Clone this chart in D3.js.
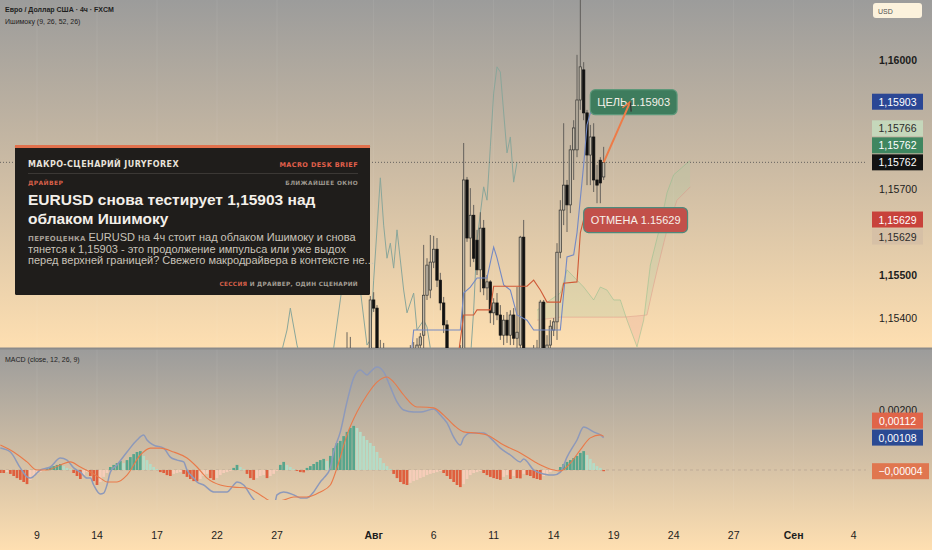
<!DOCTYPE html>
<html lang="ru">
<head>
<meta charset="utf-8">
<title>EURUSD 4ч</title>
<script src="https://cdn.jsdelivr.net/npm/d3@7/dist/d3.min.js"></script>
<style>
	html, body { margin: 0; padding: 0; background: #cdbda5; overflow: hidden; }
	svg { display: block; }
</style>
</head>
<body>
<svg id="chart" width="932" height="550"></svg>
<script>
// ---- values ----

// time axis: bar index (4h bars, 0 = 9 Jul) of every label
var tickBars = [0, 18, 36, 54, 72, 101, 119, 137, 155, 173, 191, 209, 227, 245];
var tickLabels = ["9", "14", "17", "22", "27", "Авг", "6", "11", "14", "19", "24", "27", "Сен", "4"];

var priceTicks = [1.16, 1.157, 1.155, 1.154];
var macdTicks = [200]; // units of 0.00001

// candles [open, high, low, close], the first one is bar 76
var candleStart = 76;
var candles = [
	[1.15256,1.15298,1.15228,1.15274],[1.15274,1.15307,1.15244,1.15260],[1.15260,1.15291,1.15233,1.15279],
	[1.15279,1.15302,1.15251,1.15267],[1.15267,1.15288,1.15237,1.15244],[1.15244,1.15274,1.15221,1.15260],
	[1.15260,1.15291,1.15251,1.15284],[1.15284,1.15302,1.15256,1.15267],[1.15267,1.15279,1.15233,1.15244],
	[1.15244,1.15267,1.15214,1.15228],[1.15228,1.15256,1.15209,1.15251],[1.15251,1.15284,1.15237,1.15274],
	[1.15274,1.15298,1.15260,1.15288],[1.15288,1.15314,1.15267,1.15302],[1.15302,1.15321,1.15279,1.15291],
	[1.15291,1.15314,1.15274,1.15307],[1.15307,1.15325,1.15288,1.15298],[1.15279,1.15367,1.15256,1.15321],
	[1.15321,1.15356,1.15274,1.15291],[1.15291,1.15314,1.15233,1.15244],[1.15244,1.15279,1.15209,1.15228],
	[1.15228,1.15274,1.15214,1.15256],[1.15256,1.15302,1.15228,1.15279],[1.15279,1.15321,1.15256,1.15307],
	[1.15307,1.15451,1.15298,1.15442],[1.15442,1.15460,1.15414,1.15423],[1.15423,1.15430,1.15274,1.15291],
	[1.15291,1.15349,1.15267,1.15307],[1.15307,1.15342,1.15279,1.15288],[1.15288,1.15314,1.15244,1.15260],
	[1.15260,1.15298,1.15228,1.15244],[1.15244,1.15291,1.15221,1.15274],[1.15274,1.15307,1.15237,1.15256],
	[1.15256,1.15298,1.15228,1.15279],[1.15279,1.15314,1.15251,1.15298],[1.15298,1.15325,1.15267,1.15284],
	[1.15284,1.15337,1.15274,1.15314],[1.15314,1.15344,1.15291,1.15325],[1.15325,1.15353,1.15302,1.15337],
	[1.15337,1.15365,1.15321,1.15356],[1.15360,1.15570,1.15330,1.15453],[1.15453,1.15539,1.15442,1.15523],
	[1.15465,1.15593,1.15446,1.15530],[1.15530,1.15591,1.15516,1.15560],[1.15560,1.15586,1.15472,1.15488],
	[1.15488,1.15505,1.15418,1.15435],[1.15435,1.15449,1.15365,1.15384],[1.15384,1.15395,1.15291,1.15307],
	[1.15307,1.15321,1.15256,1.15274],[1.15274,1.15307,1.15244,1.15291],[1.15291,1.15325,1.15267,1.15302],
	[1.15302,1.15337,1.15274,1.15314],[1.15314,1.15807,1.15302,1.15721],[1.15721,1.15728,1.15577,1.15586],
	[1.15586,1.15702,1.15519,1.15639],[1.15639,1.15663,1.15530,1.15539],[1.15581,1.15605,1.15500,1.15512],
	[1.15512,1.15646,1.15460,1.15609],[1.15609,1.15628,1.15453,1.15470],[1.15470,1.15500,1.15442,1.15484],
	[1.15484,1.15488,1.15388,1.15412],[1.15412,1.15446,1.15384,1.15435],[1.15435,1.15458,1.15395,1.15407],
	[1.15407,1.15430,1.15349,1.15360],[1.15360,1.15407,1.15337,1.15395],[1.15395,1.15414,1.15342,1.15360],
	[1.15360,1.15418,1.15337,1.15407],[1.15407,1.15423,1.15337,1.15353],[1.15353,1.15472,1.15330,1.15367],
	[1.15337,1.15591,1.15302,1.15588],[1.15588,1.15628,1.15279,1.15291],[1.15291,1.15325,1.15256,1.15274],
	[1.15274,1.15314,1.15244,1.15302],[1.15302,1.15337,1.15274,1.15325],[1.15325,1.15349,1.15284,1.15298],
	[1.15314,1.15442,1.15302,1.15437],[1.15437,1.15442,1.15279,1.15291],[1.15291,1.15360,1.15274,1.15337],
	[1.15337,1.15395,1.15325,1.15381],[1.15372,1.15400,1.15358,1.15391],[1.15391,1.15574,1.15349,1.15553],
	[1.15553,1.15674,1.15539,1.15651],[1.15651,1.15853,1.15616,1.15709],[1.15709,1.15721,1.15600,1.15663],
	[1.15663,1.15802,1.15644,1.15791],[1.15791,1.15860,1.15721,1.15842],[1.15791,1.16012,1.15774,1.15907],
	[1.15907,1.16140,1.15884,1.15984],[1.15977,1.15995,1.15860,1.15877],[1.15877,1.15884,1.15709,1.15779],
	[1.15779,1.15849,1.15709,1.15821],[1.15821,1.15853,1.15693,1.15721],[1.15721,1.15756,1.15667,1.15709],
	[1.15767,1.15774,1.15667,1.15714],[1.15728,1.15798,1.15721,1.15762]
];

// Ishimoku (9, 26, 52, 26) lines, [bar, price]
var tenkan = [[108,1.15291],[112,1.15291],[113,1.15372],[127,1.15372],[128,1.15458],[130,1.15472],[132,1.15493],
	[135,1.15493],[137,1.15565],[138,1.15540],[140,1.15477],[142,1.15465],[144,1.15407],[147,1.15395],[149,1.15372],
	[157,1.15372],[159,1.15542],[161,1.15547],[162,1.15598],[164,1.15756],[165,1.15849],[166,1.15877],[170,1.15891]];
var kijun = [[126,1.15291],[128,1.15407],[131,1.15407],[132,1.15419],[136,1.15419],[137,1.15474],[147,1.15474],
	[149,1.15488],[151,1.15465],[153,1.15437],[157,1.15437],[158,1.15481],[162,1.15484],[163,1.15598],[164,1.15629],
	[170,1.15629]];
var chikou = [[72,1.15279],[75,1.15372],[76,1.15423],[78,1.15337],[80,1.15279],[88,1.15279],[89,1.15330],
	[91,1.15442],[92,1.15500],[95,1.15535],[97,1.15465],[99,1.15337],[100,1.15349],[101,1.15488],[103,1.15726],
	[104,1.15616],[105,1.15539],[106,1.15574],[107,1.15516],[108,1.15605],[110,1.15465],[111,1.15412],[113,1.15458],
	[114,1.15372],[116,1.15395],[117,1.15379],[118,1.15330],[120,1.15291],[128,1.15267],[130,1.15302],[131,1.15418],
	[132,1.15581],[134,1.15705],[135,1.15674],[136,1.15798],[137,1.15923],[138,1.15984],[139,1.15972],[141,1.15784],
	[142,1.15821],[143,1.15716],[144,1.15762]];
var senkouA = [[150,1.15418],[154,1.15442],[157,1.15458],[159,1.15512],[162,1.15488],[164,1.15472],[167,1.15442],
	[169,1.15472],[171,1.15465],[173,1.15442],[175,1.15442],[177,1.15395],[180,1.15333],[182,1.15395],[184,1.15523],
	[187,1.15616],[189,1.15691],[191,1.15733],[195,1.15760],[196,1.15766]];
var senkouB = [[150,1.15395],[157,1.15402],[176,1.15402],[183,1.15407],[185,1.15477],[187,1.15542],[189,1.15605],
	[192,1.15674],[196,1.15705]];

// MACD (close, 12, 26, 9), units of 0.00001; histogram starts at bar -11
var histStart = -11;
var macdHist = [
	-10,-10,-7,-13,-20,-27,-33,-40,-47,-33,-23,
	-13,-7,-3,7,10,13,17,20,13,7,
	3,-10,-20,-30,-17,-7,-20,-37,-50,-40,
	-23,-10,10,17,23,30,23,33,43,53,
	60,63,47,33,20,10,3,-7,-10,-17,
	-20,-13,-10,-7,-13,-23,-30,-37,-38,-30,
	-20,-13,-27,-33,-27,-17,-10,-7,-3,7,
	17,10,3,-13,-27,-33,-27,-20,-17,-27,
	-20,-13,-3,17,27,17,10,3,-3,-7,
	-8,7,13,20,27,33,37,30,47,73,
	90,97,113,127,140,147,140,127,113,100,
	90,80,60,40,23,13,3,-13,-27,-40,
	-47,-50,-43,-37,-33,-27,-23,-17,-13,-10,
	-7,-3,-10,-20,-30,-40,-50,-57,-47,-30,
	-17,-10,-7,-3,-10,-17,-23,-27,-30,-33,
	-23,-17,-30,-20,-27,-28,-13,-17,-20,-27,
	-30,-33,-20,-13,-7,-3,-2,10,20,27,
	33,40,47,57,63,50,37,23,13,7,
	-4
];
var macdLine = [[-11,73],[-8,60],[-5,7],[-3,-23],[-2,-27],[1,0],[4,10],[7,40],[9,33],[11,7],[13,-7],[15,-27],
	[16,-27],[17,-50],[19,-80],[20,-77],[21,-50],[22,-7],[24,17],[27,60],[30,100],[32,117],[33,100],[35,83],[38,73],
	[40,43],[42,33],[44,27],[45,0],[47,-27],[48,-40],[50,-50],[53,-73],[57,-73],[59,-50],[60,-40],[62,-50],[64,-83],
	[66,-110],[68,-117],[71,-127],[72,-83],[74,-73],[77,-83],[79,-93],[81,-93],[83,-73],[85,-40],[86,-27],[88,7],
	[89,60],[91,127],[93,227],[95,307],[97,333],[99,317],[100,327],[102,343],[104,327],[106,277],[108,227],[110,200],
	[113,193],[115,193],[119,203],[121,183],[123,157],[125,110],[127,83],[128,107],[130,123],[134,123],[136,107],
	[139,73],[142,50],[145,27],[146,37],[149,0],[152,-13],[155,-17],[157,-7],[159,43],[162,100],[164,143],[167,127],
	[169,117],[170,108]];
var signalLine = [[-11,83],[-7,60],[-3,27],[0,0],[3,0],[7,17],[10,27],[13,10],[16,-7],[19,-27],[21,-40],[24,-40],
	[27,-17],[31,50],[34,73],[37,73],[41,60],[45,40],[48,10],[51,-27],[55,-50],[59,-57],[63,-60],[67,-83],[71,-107],
	[74,-100],[77,-90],[81,-90],[85,-73],[88,-50],[90,7],[93,117],[96,193],[99,250],[102,293],[105,310],[107,293],
	[110,250],[114,210],[115,210],[119,207],[122,183],[125,150],[128,127],[132,123],[135,117],[140,83],[145,57],
	[150,23],[155,0],[157,-3],[160,23],[163,67],[166,107],[169,117],[170,112]];

// scenario drawing
var lastBar = 170;
var lastPrice = 1.15762;
var targetPrice = 1.15903;
var stopPrice = 1.15629;
var arrowEndBar = 178;
var targetBoxBar = 166;
var stopBoxBar = 164;

// labels on the price scale
var markKeys = ["target", "spanA", "lagging", "last", "stop", "base"];
var markValues = [1.15903, 1.15766, 1.15762, 1.15762, 1.15629, 1.15629];
var macdMarkKeys = ["signal", "macd", "hist"];
var macdMarkValues = [112, 108, -4];

// ---- drawing ----
var chart = {
	paneRight: 866,
	mainBottom: 348,
	macdTop: 350,
	fontUi: "'Liberation Sans', Arial, sans-serif",
	fontTag: "'DejaVu Sans', Verdana, sans-serif",
	markStyle: {
		target:  {fill: "#2b4795", color: "#ffffff", slot: 0},
		spanA:   {fill: "#c5d7bb", color: "#2b2b2b", slot: -2, anchor: "last"},
		lagging: {fill: "#3f8660", color: "#ffffff", slot: -1, anchor: "last"},
		last:    {fill: "#121212", color: "#ffffff", slot: 0},
		stop:    {fill: "#c8423b", color: "#ffffff", slot: 0},
		base:    {fill: "#d6c0a6", color: "#2b2b2b", slot: 1, anchor: "stop"},
		signal:  {fill: "#e0654a", color: "#ffffff", slot: -1, anchor: "macd"},
		macd:    {fill: "#2b4a93", color: "#ffffff", slot: 0},
		hist:    {fill: "#e0764f", color: "#ffffff", slot: 0}
	},

	initiate: function(){
		var self = this;
		self.svg = d3.select("#chart");
		self.x = d3.scaleLinear().domain([0, 18]).range([37, 97]);
		self.y = d3.scaleLinear().domain([1.15, 1.16]).range([490, 60]);
		self.my = d3.scaleLinear().domain([0, 200]).range([470, 410]);
		self.fmt = function(v){ return d3.format(".5f")(v).replace(".", ","); };

		self.drawBackground();
		self.drawMain();
		self.drawMacd();
		self.drawAxes();
		self.drawScenario();
		self.drawCard();
		self.drawLegends();
	},

	drawBackground: function(){
		var self = this;
		var defs = self.svg.append("defs");
		self.defs = defs;

		[["bgMain", 0, self.mainBottom], ["bgMacd", self.macdTop, 550]].forEach(function(g){
			var grad = defs.append("linearGradient")
				.attr("id", g[0])
				.attr("gradientUnits", "userSpaceOnUse")
				.attr("x1", 0).attr("x2", 0).attr("y1", g[1]).attr("y2", g[2]);
			grad.append("stop").attr("offset", 0).attr("stop-color", "#9c9c9b");
			grad.append("stop").attr("offset", 0.5).attr("stop-color", "#cdbca4");
			grad.append("stop").attr("offset", 1).attr("stop-color", "#fedfb1");
		});

		defs.append("clipPath").attr("id", "clipMain")
			.append("rect").attr("x", 0).attr("y", 0).attr("width", self.paneRight).attr("height", self.mainBottom);
		defs.append("clipPath").attr("id", "clipMacd")
			.append("rect").attr("x", 0).attr("y", self.macdTop).attr("width", self.paneRight).attr("height", 150);

		self.svg.append("rect").attr("x", 0).attr("y", 0).attr("width", 932).attr("height", self.mainBottom)
			.attr("fill", "url(#bgMain)");
		self.svg.append("rect").attr("x", 0).attr("y", self.mainBottom).attr("width", 932).attr("height", 550 - self.mainBottom)
			.attr("fill", "url(#bgMacd)");

		//faint vertical grid at the time ticks
		self.svg.append("g").selectAll("line")
			.data(tickBars)
			.enter().append("line")
			.attr("x1", function(d){ return self.x(d); })
			.attr("x2", function(d){ return self.x(d); })
			.attr("y1", 0).attr("y2", 510)
			.attr("stroke", "rgba(255,255,255,0.07)")
			.attr("stroke-width", 1);

		//pane separator
		self.svg.append("line")
			.attr("x1", 0).attr("x2", 932)
			.attr("y1", self.mainBottom + 0.5).attr("y2", self.mainBottom + 0.5)
			.attr("stroke", "#8b8b8b").attr("stroke-width", 2);
	},

	drawMain: function(){
		var self = this;
		var x = self.x, y = self.y;
		var g = self.svg.append("g").attr("clip-path", "url(#clipMain)");

		var line = d3.line()
			.x(function(d){ return x(d[0]); })
			.y(function(d){ return y(d[1]); });

		//cloud, green where span A is above span B, red where it is below
		var aboveB = d3.area().x(function(d){ return x(d[0]); }).y0(0).y1(function(d){ return y(d[1]); });
		var belowB = d3.area().x(function(d){ return x(d[0]); }).y0(function(d){ return y(d[1]); }).y1(self.mainBottom);
		self.defs.append("clipPath").attr("id", "clipAboveB").append("path").attr("d", aboveB(senkouB));
		self.defs.append("clipPath").attr("id", "clipBelowB").append("path").attr("d", belowB(senkouB));

		var cloud = line(senkouA.concat(senkouB.slice().reverse())) + "Z";
		g.append("path").attr("d", cloud).attr("fill", "rgba(170,205,165,0.24)").attr("clip-path", "url(#clipAboveB)");
		g.append("path").attr("d", cloud).attr("fill", "rgba(235,160,150,0.24)").attr("clip-path", "url(#clipBelowB)");
		g.append("path").attr("d", line(senkouA)).attr("fill", "none")
			.attr("stroke", "rgba(140,190,140,0.5)").attr("stroke-width", 1);
		g.append("path").attr("d", line(senkouB)).attr("fill", "none")
			.attr("stroke", "rgba(220,140,130,0.4)").attr("stroke-width", 1);

		//lagging span
		g.append("path").attr("d", line(chikou)).attr("fill", "none")
			.attr("stroke", "#8aa69a").attr("stroke-width", 1);

		//last price dotted line
		g.append("line")
			.attr("x1", 0).attr("x2", self.paneRight)
			.attr("y1", y(lastPrice)).attr("y2", y(lastPrice))
			.attr("stroke", "#4a4a4a").attr("stroke-width", 0.8)
			.attr("stroke-dasharray", "1,2");

		//candles
		var bars = g.append("g").selectAll("g")
			.data(candles)
			.enter().append("g");

		bars.append("line")
			.attr("x1", function(d, k){ return x(candleStart + k); })
			.attr("x2", function(d, k){ return x(candleStart + k); })
			.attr("y1", function(d){ return y(d[1]); })
			.attr("y2", function(d){ return y(d[2]); })
			.attr("stroke", "#595753")
			.attr("stroke-width", 0.9);

		bars.append("rect")
			.attr("x", function(d, k){ return x(candleStart + k) - 1.2; })
			.attr("y", function(d){ return y(Math.max(d[0], d[3])); })
			.attr("width", 2.4)
			.attr("height", function(d){ return Math.max(1, Math.abs(y(d[0]) - y(d[3]))); })
			.attr("fill", function(d){ return d[3] >= d[0] ? "#c2b9a9" : "#111111"; })
			.attr("stroke", function(d){ return d[3] >= d[0] ? "#333331" : "#111111"; })
			.attr("stroke-width", 0.7);

		//conversion and base lines
		g.append("path").attr("d", line(tenkan)).attr("fill", "none")
			.attr("stroke", "#7489c4").attr("stroke-width", 1.1);
		g.append("path").attr("d", line(kijun)).attr("fill", "none")
			.attr("stroke", "#cf5a38").attr("stroke-width", 1.1);
	},

	drawMacd: function(){
		var self = this;
		var x = self.x, my = self.my;
		var g = self.svg.append("g").attr("clip-path", "url(#clipMacd)");

		g.append("line")
			.attr("x1", 0).attr("x2", 871)
			.attr("y1", my(0)).attr("y2", my(0))
			.attr("stroke", "#bfab97").attr("stroke-width", 1)
			.attr("stroke-dasharray", "3,3");

		g.append("g").selectAll("rect")
			.data(macdHist)
			.enter().append("rect")
			.attr("x", function(d, k){ return x(histStart + k) - 1.35; })
			.attr("width", 2.7)
			.attr("y", function(d){ return Math.min(my(d), my(0)); })
			.attr("height", function(d){ return Math.abs(my(d) - my(0)); })
			.attr("fill", function(d, k){
				var prev = k > 0 ? macdHist[k - 1] : d;
				if (d >= 0) return d >= prev ? "#56a58c" : "#b4dcc7";
				return d <= prev ? "#df5f3e" : "#f6cdb9";
			});

		var line = d3.line()
			.x(function(d){ return x(d[0]); })
			.y(function(d){ return my(d[1]); })
			.curve(d3.curveMonotoneX);

		g.append("path").attr("d", line(macdLine)).attr("fill", "none")
			.attr("stroke", "#8d99ba").attr("stroke-width", 1.5);
		g.append("path").attr("d", line(signalLine)).attr("fill", "none")
			.attr("stroke", "#e97a4a").attr("stroke-width", 1.1);
	},

	axisBox: function(cy, text, style, wide){
		var self = this;
		var w = wide ? 57 : 51;
		self.svg.append("rect")
			.attr("x", 872).attr("y", cy - 8)
			.attr("width", w).attr("height", 16)
			.attr("fill", style.fill);
		self.svg.append("text")
			.attr("x", 872 + w / 2).attr("y", cy + 4)
			.attr("text-anchor", "middle")
			.attr("font-family", self.fontUi)
			.attr("font-size", "10.5px")
			.attr("fill", style.color)
			.text(text);
	},

	drawAxes: function(){
		var self = this;

		//time labels
		self.svg.append("g").selectAll("text")
			.data(tickBars)
			.enter().append("text")
			.attr("x", function(d){ return self.x(d); })
			.attr("y", 539)
			.attr("text-anchor", "middle")
			.attr("font-family", self.fontUi)
			.attr("font-size", "10.5px")
			.attr("font-weight", function(d, k){ return isNaN(+tickLabels[k]) ? "bold" : "normal"; })
			.attr("fill", "#1c1c1c")
			.text(function(d, k){ return tickLabels[k]; });

		//price labels
		self.svg.append("g").selectAll("text")
			.data(priceTicks)
			.enter().append("text")
			.attr("x", 898)
			.attr("y", function(d){ return self.y(d) + 4; })
			.attr("text-anchor", "middle")
			.attr("font-family", self.fontUi)
			.attr("font-size", "10.5px")
			.attr("font-weight", function(d){ return (Math.round(d * 1e5) % 500 === 0) ? "bold" : "normal"; })
			.attr("fill", "#1c1c1c")
			.text(function(d){ return self.fmt(d); });

		self.svg.append("g").selectAll("text")
			.data(macdTicks)
			.enter().append("text")
			.attr("x", 898)
			.attr("y", function(d){ return self.my(d) + 4; })
			.attr("text-anchor", "middle")
			.attr("font-family", self.fontUi)
			.attr("font-size", "10.5px")
			.attr("fill", "#1c1c1c")
			.text(function(d){ return self.fmt(d * 1e-5); });

		//value marks on the scales, stacked next to their anchor
		markKeys.forEach(function(key, k){
			var st = self.markStyle[key];
			var anchor = st.anchor ? markValues[markKeys.indexOf(st.anchor)] : markValues[k];
			self.axisBox(self.y(anchor) + st.slot * 17, self.fmt(markValues[k]), st, false);
		});
		macdMarkKeys.forEach(function(key, k){
			var st = self.markStyle[key];
			var anchor = st.anchor ? macdMarkValues[macdMarkKeys.indexOf(st.anchor)] : macdMarkValues[k];
			self.axisBox(self.my(anchor) + st.slot * 17, self.fmt(macdMarkValues[k] * 1e-5), st, macdMarkValues[k] < 0);
		});

		//currency box
		self.svg.append("rect")
			.attr("x", 873).attr("y", 3).attr("width", 49).attr("height", 15).attr("rx", 3)
			.attr("fill", "#fcf2dc");
		self.svg.append("text")
			.attr("x", 878).attr("y", 13.5)
			.attr("font-family", self.fontUi).attr("font-size", "7px")
			.attr("fill", "#505050")
			.text("USD");
	},

	drawScenario: function(){
		var self = this;
		var x = self.x, y = self.y;

		var x1 = x(lastBar), y1 = y(lastPrice);
		var x2 = x(arrowEndBar), y2 = y(targetPrice);
		var ang = Math.atan2(y2 - y1, x2 - x1);

		function labelBox(bar, price, text, fill, stroke){
			var grp = self.svg.append("g");
			var rect = grp.append("rect");
			var t = grp.append("text")
				.attr("y", y(price) + 4.5)
				.attr("font-family", self.fontUi)
				.attr("font-size", "11px")
				.attr("fill", "#f7f1ea")
				.text(text);
			var tw = t.node().getComputedTextLength();
			var left = x(bar);
			t.attr("x", left + 7);
			rect.attr("x", left).attr("y", y(price) - 12)
				.attr("width", tw + 14).attr("height", 25).attr("rx", 5)
				.attr("fill", fill).attr("stroke", stroke).attr("stroke-width", 1.2);
		}

		labelBox(targetBoxBar, targetPrice, "ЦЕЛЬ " + targetPrice.toFixed(5), "#3e7c5d", "#5d987a");
		labelBox(stopBoxBar, stopPrice, "ОТМЕНА " + stopPrice.toFixed(5), "#c2504a", "#4e8a7c");

		self.svg.append("line")
			.attr("x1", x1).attr("y1", y1).attr("x2", x2).attr("y2", y2)
			.attr("stroke", "#ee7b47").attr("stroke-width", 2);

		[-0.5, 0.5].forEach(function(da, k){
			var a = ang + Math.PI + da;
			self.svg.append("line")
				.attr("x1", x2).attr("y1", y2)
				.attr("x2", x2 + Math.cos(a) * 10).attr("y2", y2 + Math.sin(a) * 10)
				.attr("stroke", k === 0 ? "#3a3a36" : "#ee7b47")
				.attr("stroke-width", 1.4);
		});
	},

	drawCard: function(){
		var self = this;
		var cx = 15, cy = 145, cw = 355, ch = 150;
		var left = cx + 13, right = cx + cw - 12;
		var g = self.svg.append("g");

		g.append("rect").attr("x", cx).attr("y", cy).attr("width", cw).attr("height", ch).attr("rx", 1.5)
			.attr("fill", "#1f1d1b");
		g.append("rect").attr("x", cx).attr("y", cy).attr("width", cw).attr("height", 3)
			.attr("fill", "#e1704c");

		function tag(tx, ty, anchor, size, fill, str){
			return g.append("text")
				.attr("x", tx).attr("y", ty)
				.attr("text-anchor", anchor)
				.attr("font-family", self.fontTag)
				.attr("font-weight", "bold")
				.attr("font-size", size + "px")
				.attr("letter-spacing", "0.4px")
				.attr("fill", fill)
				.text(str);
		}

		tag(left, cy + 22, "start", 8, "#e7e2da", "МАКРО-СЦЕНАРИЙ JURYFOREX");
		tag(right, cy + 22, "end", 6.5, "#e2604b", "MACRO DESK BRIEF");

		g.append("line").attr("x1", left).attr("x2", right)
			.attr("y1", cy + 28.5).attr("y2", cy + 28.5)
			.attr("stroke", "#3b3835").attr("stroke-width", 1);

		tag(left, cy + 40, "start", 6, "#d9604a", "ДРАЙВЕР");
		tag(right, cy + 40, "end", 5.8, "#9e988f", "БЛИЖАЙШЕЕ ОКНО");

		["EURUSD снова тестирует 1,15903 над", "облаком Ишимоку"].forEach(function(s, k){
			g.append("text")
				.attr("x", left).attr("y", cy + 60 + k * 18.5)
				.attr("font-family", self.fontUi)
				.attr("font-weight", "bold")
				.attr("font-size", "15.5px")
				.attr("fill", "#f3efe9")
				.text(s);
		});

		var bodyLines = [
			"EURUSD на 4ч стоит над облаком Ишимоку и снова",
			"тянется к 1,15903 - это продолжение импульса или уже выдох",
			"перед верхней границей? Свежего макродрайвера в контексте не..."
		];
		bodyLines.forEach(function(s, k){
			var t = g.append("text")
				.attr("x", left).attr("y", cy + 96 + k * 11.7)
				.attr("font-family", self.fontUi)
				.attr("font-size", "11px")
				.attr("fill", "#c9c3b9");
			if (k === 0){
				t.append("tspan")
					.attr("font-family", self.fontTag)
					.attr("font-weight", "bold")
					.attr("font-size", "7px")
					.attr("letter-spacing", "0.3px")
					.attr("fill", "#a59f96")
					.text("ПЕРЕОЦЕНКА ");
			}
			t.append("tspan").text(s);
		});

		var foot = g.append("text")
			.attr("x", right).attr("y", cy + 140.5)
			.attr("text-anchor", "end")
			.attr("font-family", self.fontTag)
			.attr("font-weight", "bold")
			.attr("font-size", "5.8px")
			.attr("letter-spacing", "0.3px");
		foot.append("tspan").attr("fill", "#d9604a").text("СЕССИЯ");
		foot.append("tspan").attr("fill", "#a59f96").text(" И ДРАЙВЕР, ОДИН СЦЕНАРИЙ");
	},

	drawLegends: function(){
		var self = this;
		var lines = [
			{y: 12, text: "Евро / Доллар США · 4ч · FXCM", bold: true},
			{y: 23.5, text: "Ишимоку (9, 26, 52, 26)", bold: false},
			{y: 361.5, text: "MACD (close, 12, 26, 9)", bold: false}
		];
		self.svg.append("g").selectAll("text")
			.data(lines)
			.enter().append("text")
			.attr("x", 5)
			.attr("y", function(d){ return d.y; })
			.attr("font-family", self.fontUi)
			.attr("font-size", "7px")
			.attr("font-weight", function(d){ return d.bold ? "bold" : "normal"; })
			.attr("fill", "#1e1e1e")
			.text(function(d){ return d.text; });
	}
};

chart.initiate();
</script>
</body>
</html>
